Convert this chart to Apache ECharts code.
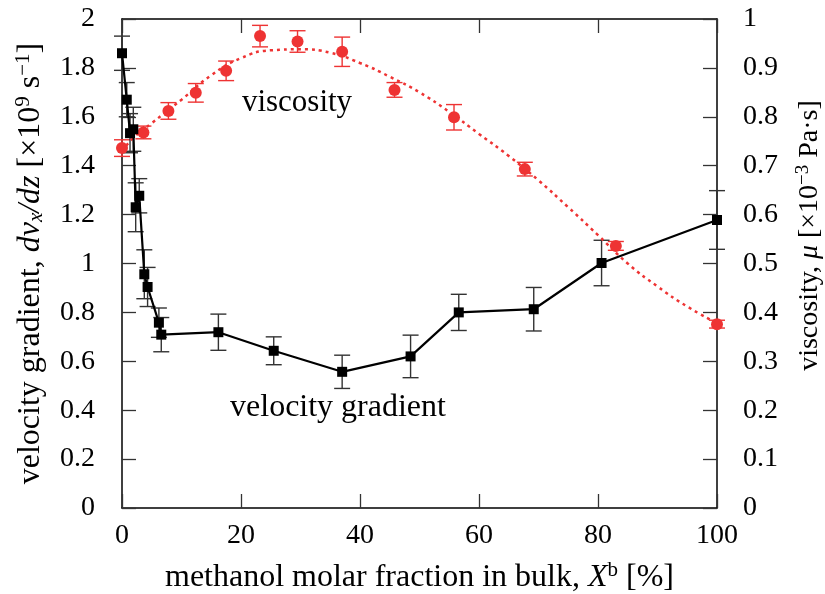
<!DOCTYPE html>
<html>
<head>
<meta charset="utf-8">
<script src="https://cdn.jsdelivr.net/npm/echarts@6/dist/echarts.min.js"></script>
<style>
  html, body { margin: 0; padding: 0; background: #fff; }
  #chart { width: 825px; height: 594px; }
</style>
</head>
<body>
<div id="chart"></div>
<script>
// velocity gradient (left axis, x10^9 s^-1)
const gradX = [0, 0.8, 1.35, 1.9, 2.3, 2.9, 3.75, 4.3, 6.2, 6.6, 16.2, 25.5, 37, 48.5, 56.6, 69.2, 80.6, 100]
const gradY = [1.86, 1.67, 1.533, 1.549, 1.23, 1.277, 0.956, 0.904, 0.758, 0.709, 0.719, 0.643, 0.557, 0.62, 0.8, 0.813, 1.002, 1.178]
const gradErr = [0.07, 0.07, 0.08, 0.09, 0.1, 0.07, 0.1, 0.08, 0.06, 0.07, 0.074, 0.057, 0.068, 0.087, 0.074, 0.089, 0.093, 0.12]

// viscosity (right axis, x10^-3 Pa s)
const viscX = [0, 3.6, 7.8, 12.4, 17.5, 23.2, 29.5, 37, 45.8, 55.8, 67.7, 83, 100]
const viscY = [0.736, 0.768, 0.812, 0.849, 0.894, 0.965, 0.954, 0.933, 0.855, 0.799, 0.693, 0.536, 0.376]
const viscErr = [0.017, 0.013, 0.017, 0.019, 0.02, 0.022, 0.022, 0.03, 0.015, 0.026, 0.014, 0.009, 0.008]

// fitted viscosity curve
const fitX = [0, 2, 5, 10, 15, 20, 25, 30, 35, 40, 45, 50, 55, 60, 65, 70, 75, 80, 85, 90, 95, 100]
const fitY = [0.73, 0.758, 0.787, 0.835, 0.885, 0.92, 0.936, 0.938, 0.931, 0.91, 0.882, 0.85, 0.81, 0.765, 0.72, 0.67, 0.615, 0.558, 0.5, 0.453, 0.412, 0.378]

const RED = '#ee3333'
const FONT = 'Liberation Serif'

const chart = echarts.init(document.getElementById('chart'))

function errorBars(xs, ys, errs, color, yAxisIndex) {
  return {
    type: 'custom',
    yAxisIndex: yAxisIndex,
    z: 1,
    silent: true,
    data: xs.map((x, i) => [x, ys[i] - errs[i], ys[i] + errs[i]]),
    encode: { x: 0, y: [1, 2] },
    renderItem(params, api) {
      const lo = api.coord([api.value(0), api.value(1)])
      const hi = api.coord([api.value(0), api.value(2)])
      const w = 8
      const style = { stroke: color, lineWidth: 1.4 }
      return {
        type: 'group',
        children: [
          { type: 'line', shape: { x1: lo[0], y1: lo[1], x2: hi[0], y2: hi[1] }, style },
          { type: 'line', shape: { x1: lo[0] - w, y1: lo[1], x2: lo[0] + w, y2: lo[1] }, style },
          { type: 'line', shape: { x1: hi[0] - w, y1: hi[1], x2: hi[0] + w, y2: hi[1] }, style }
        ]
      }
    }
  }
}

const axisLine = { show: true, onZero: false, lineStyle: { color: '#000', width: 1.5 } }
const axisTick = { show: true, inside: true, length: 14, lineStyle: { color: '#333', width: 1.3 } }
const tickLabel = { color: '#000', fontFamily: FONT, fontSize: 28 }

const nameRich = {
  i: { fontFamily: FONT, fontStyle: 'italic', fontSize: 32, color: '#000' },
  sup: { fontFamily: FONT, fontSize: 21, color: '#000', padding: [0, 0, 14, 0] },
  sub: { fontFamily: FONT, fontSize: 21, fontStyle: 'italic', color: '#000', padding: [12, 0, 0, 0] }
}
const nameStyle = { fontFamily: FONT, fontSize: 32, color: '#000', rich: nameRich }

const rightRich = {
  i: { fontFamily: FONT, fontStyle: 'italic', fontSize: 28, color: '#000' },
  sup: { fontFamily: FONT, fontSize: 19, color: '#000', padding: [0, 0, 12, 0] }
}

chart.setOption({
  animation: false,
  backgroundColor: '#fff',
  grid: { left: 122, right: 108, top: 19, bottom: 86, outerBoundsMode: 'none', containLabel: false },
  xAxis: [
    {
      type: 'value',
      min: 0,
      max: 100,
      interval: 20,
      position: 'bottom',
      axisLine,
      axisTick,
      splitLine: { show: false },
      axisLabel: Object.assign({ margin: 14 }, tickLabel),
      name: 'methanol molar fraction in bulk, {i|X}{sup|b} [%]',
      nameLocation: 'middle',
      nameGap: 52,
      nameTextStyle: nameStyle
    },
    {
      type: 'value',
      min: 0,
      max: 100,
      interval: 20,
      position: 'top',
      axisLine,
      axisTick,
      splitLine: { show: false },
      axisLabel: { show: false }
    }
  ],
  yAxis: [
    {
      type: 'value',
      min: 0,
      max: 2,
      interval: 0.2,
      position: 'left',
      axisLine,
      axisTick,
      splitLine: { show: false },
      axisLabel: Object.assign({ margin: 27 }, tickLabel),
      name: 'velocity gradient, {i|dv}{sub|x}{i|/dz} [×10{sup|9} s{sup|−1}]',
      nameLocation: 'middle',
      nameRotate: 90,
      nameGap: 74,
      nameTextStyle: nameStyle
    },
    {
      type: 'value',
      min: 0,
      max: 1,
      interval: 0.1,
      position: 'right',
      axisLine,
      axisTick,
      splitLine: { show: false },
      axisLabel: Object.assign({ margin: 26 }, tickLabel),
      name: 'viscosity, {i|μ} [×10{sup|−3} Pa·s]',
      nameLocation: 'middle',
      nameRotate: 90,
      nameGap: 77,
      nameTextStyle: { fontFamily: FONT, fontSize: 28, color: '#000', rich: rightRich, padding: [0, 0, 0, 56] }
    }
  ],
  graphic: [
    { type: 'text', x: 297, y: 103, style: { text: 'viscosity', font: '31px "Liberation Serif"', fill: '#000', textAlign: 'center', textVerticalAlign: 'middle' } },
    { type: 'text', x: 338, y: 408, style: { text: 'velocity gradient', font: '32px "Liberation Serif"', fill: '#000', textAlign: 'center', textVerticalAlign: 'middle' } }
  ],
  series: [
    {
      type: 'line',
      yAxisIndex: 1,
      data: fitX.map((x, i) => [x, fitY[i]]),
      smooth: true,
      showSymbol: false,
      z: 2,
      lineStyle: { color: RED, width: 2.5, type: [3, 4] }
    },
    errorBars(viscX, viscY, viscErr, RED, 1),
    {
      type: 'scatter',
      yAxisIndex: 1,
      data: viscX.map((x, i) => [x, viscY[i]]),
      symbol: 'circle',
      symbolSize: 12,
      z: 3,
      itemStyle: { color: RED, opacity: 1 }
    },
    errorBars(gradX, gradY, gradErr, '#333', 0),
    {
      type: 'line',
      yAxisIndex: 0,
      data: gradX.map((x, i) => [x, gradY[i]]),
      symbol: 'rect',
      symbolSize: 10,
      showAllSymbol: true,
      z: 4,
      itemStyle: { color: '#000' },
      lineStyle: { color: '#000', width: 2.2 }
    }
  ]
})
</script>
</body>
</html>
